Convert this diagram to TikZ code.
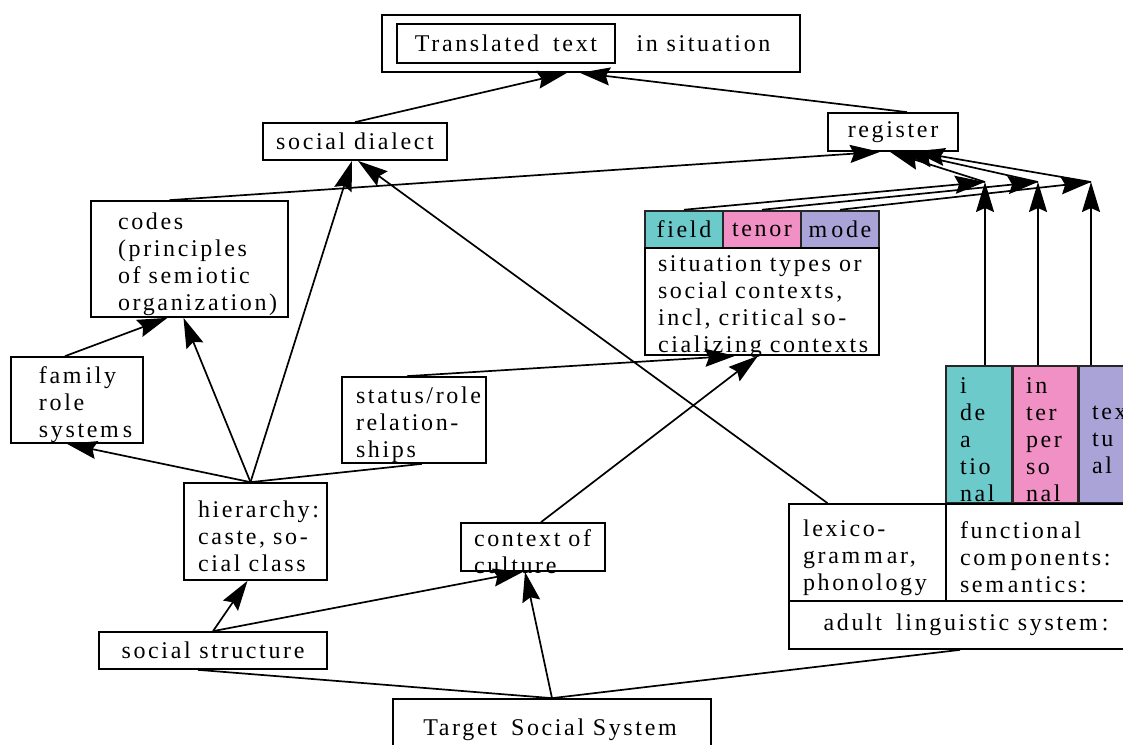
\documentclass[tikz,border=0pt]{standalone}
\usepackage{fontspec}
\setmainfont{Liberation Serif}[LetterSpace=11]
\newfontfamily\diagfam{Liberation Serif}[LetterSpace=11]
\usetikzlibrary{arrows.meta,positioning,calc}

\definecolor{fieldcol}{HTML}{6CCACB}
\definecolor{tenorcol}{HTML}{F190C4}
\definecolor{modecol}{HTML}{AAA3D8}

\newcommand{\dfont}{\diagfam\fontsize{24}{27}\selectfont}
\newcommand{\msp}{m\kern4pt}
\hfuzz=200pt
\hbadness=10000

\tikzset{
  box/.style={draw, line width=1.7pt, inner sep=0pt, font=\dfont},
  lpad/.style={execute at begin node={\leftskip=#1\rightskip=-8pt plus 1fil\relax},
    execute at end node={\par\kern-10pt}},
  col/.style={box, line width=2.5pt, draw=black!85, fill=#1},
  conn/.style={line width=1.7pt},
  arr/.style={conn, -{Stealth[length=30pt,width=18pt,inset=4pt]}},
}

\begin{document}
\begin{tikzpicture}[x=1pt,y=-1pt]
\path[use as bounding box, fill=white] (0,0) rectangle (1123,744);
\clip (0,0) rectangle (1123,744);

% top
\node[box, minimum width=418pt, minimum height=57pt] (top) at (591,43.5) {};
\node[box, minimum width=218pt, minimum height=39pt] (trans) at (506,43.5) {Translated\hspace{14pt}text};
\node[font=\dfont, inner sep=0pt] (insit) at (703.5,44) {in situation};

\node[box, minimum width=184pt, minimum height=37pt] (dialect) at (355,141.5) {social dialect};
\node[box, minimum width=130pt, minimum height=38pt] (register) at (893,132) {register};

% left side
\node[box, text width=197pt, minimum height=116pt, lpad=27pt] (codes) at (189.5,259)
  {codes\\(principles\\of se\msp iotic\\organization)};
\node[box, text width=132pt, minimum height=86pt, lpad=28pt] (family) at (77,400)
  {fa\msp ily\\role\\syste\msp s};
\node[box, text width=144pt, minimum height=86pt, lpad=14pt] (status) at (414,420)
  {status/role\\relation-\\ships};
\node[box, text width=143pt, minimum height=97pt, lpad=14pt] (hier) at (255.5,531.5)
  {hierarchy:\\caste, so-\\cial class};
\node[box, text width=144pt, minimum height=48pt, lpad=13pt] (context) at (533,547)
  {context of\\culture};
\node[box, minimum width=228pt, minimum height=37pt] (struct) at (213,650.5) {social structure};
\node[box, minimum width=318pt, minimum height=62pt] (target) at (552,730)
  {Target\hspace{14pt}Social Syste\msp};

% situation
\node[col=fieldcol, minimum width=78pt, minimum height=37pt] (field) at (684,229.5) {field};
\node[col=tenorcol, minimum width=78pt, minimum height=37pt] (tenor) at (762,229.5) {tenor};
\node[col=modecol, minimum width=78pt, minimum height=37pt] (mode) at (840,229.5) {\msp ode};
\node[box, text width=234pt, minimum height=107pt, lpad=13pt] (situat) at (762,301.5)
  {situation types or\\social contexts,\\incl, critical so-\\cializing contexts};

% linguistic system
\node[col=fieldcol, text width=66pt, minimum height=137pt, lpad=14pt] (ideat) at (979,434.5)
  {i\\de\\a\\tio\\nal};
\node[col=tenorcol, text width=65pt, minimum height=137pt, lpad=13pt] (inter) at (1045.5,434.5)
  {in\\ter\\per\\so\\nal};
\node[col=modecol, text width=65pt, minimum height=137pt, lpad=13pt] (textu) at (1111.5,434.5)
  {tex\\tu\\al};
\node[box, text width=157pt, minimum height=97pt, lpad=14pt] (lexico) at (867.5,552.5)
  {lexico-\\gra\msp \msp ar,\\phonology};
\node[box, text width=197pt, minimum height=97pt, lpad=14pt] (funct) at (1044.5,552.5)
  {functional\\co\msp ponents:\\se\msp antics:};
\node[box, minimum width=354pt, minimum height=48pt] (adult) at (966,625)
  {adult\hspace{14pt}linguistic syste\msp:};

\coordinate (jI) at (985,182);
\coordinate (jP) at (1038,182);
\coordinate (jT) at (1091,182);

% connectors
\draw[arr] (dialect.north) -- ([xshift=-24pt]top.south);
\draw[arr] ([xshift=14pt]register.north) -- ([xshift=-11pt]top.south);
\draw[arr] ([xshift=-20pt]codes.north) -- ([xshift=-13pt]register.south);
\draw[arr] (field.north) -- (jI);
\draw[arr] (tenor.north) -- (jP);
\draw[arr] (mode.north) -- (jT);
\draw[arr] ([xshift=6pt]ideat.north) -- (jI);
\draw[arr] ([xshift=-7.5pt]inter.north) -- (jP);
\draw[arr] ([xshift=-20.5pt]textu.north) -- (jT);
\draw[arr] (jI) -- ([xshift=-3pt]register.south);
\draw[arr] (jP) -- ([xshift=10pt]register.south);
\draw[arr] (jT) -- ([xshift=22pt]register.south);

\draw[arr] ([xshift=-5pt]hier.north) -- ([xshift=-3pt]dialect.south);
\draw[arr] ([xshift=-5pt]hier.north) -- ([xshift=-6pt]codes.south);
\draw[arr] ([xshift=-5pt]hier.north) -- ([xshift=-10pt]family.south);
\draw[conn] ([xshift=-5pt]hier.north) -- ([xshift=8pt]status.south);
\draw[arr] ([xshift=-12pt]family.north) -- ([xshift=-22pt]codes.south);
\draw[arr] ([xshift=-7pt]status.north) -- ([xshift=-27pt]situat.south);
\draw[arr] ([xshift=8pt]context.north) -- ([xshift=-4pt]situat.south);
\draw[arr] ([xshift=-40pt]lexico.north) -- ([xshift=3pt]dialect.south);

\draw[arr] (struct.north) -- ([xshift=-8pt]hier.south);
\draw[arr] (struct.north) -- ([xshift=-10pt]context.south);
\draw[arr] (target.north) -- ([xshift=-8pt]context.south);
\draw[conn] (target.north) -- ([xshift=-15pt]struct.south);
\draw[conn] (target.north) -- ([xshift=-6pt]adult.south);
\end{tikzpicture}
\end{document}
